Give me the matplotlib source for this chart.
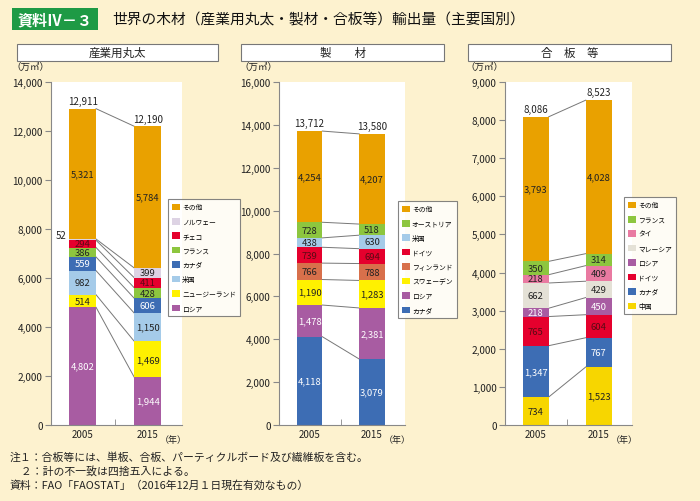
import numpy as np
import matplotlib
matplotlib.use('Agg')
import matplotlib.pyplot as plt
import matplotlib.transforms as mtransforms
from matplotlib.patches import Rectangle, Patch

plt.rcParams['font.family'] = ['Noto Sans CJK JP', 'DejaVu Sans']

W, H = 700, 502

years = ['2005', '2015']

# 産業用丸太 (bottom -> top)
log_names = ['ロシア', 'ニュージーランド', '米国', 'カナダ', 'フランス', 'チェコ', 'ノルウェー', 'その他']
log_2005 = [4802, 514, 982, 559, 386, 294, 52, 5321]
log_2015 = [1944, 1469, 1150, 606, 428, 411, 399, 5784]
log_total = [12911, 12190]

# 製材
saw_names = ['カナダ', 'ロシア', 'スウェーデン', 'フィンランド', 'ドイツ', '米国', 'オーストリア', 'その他']
saw_2005 = [4118, 1478, 1190, 766, 739, 438, 728, 4254]
saw_2015 = [3079, 2381, 1283, 788, 694, 630, 518, 4207]
saw_total = [13712, 13580]

# 合板等
ply_names = ['中国', 'カナダ', 'ドイツ', 'ロシア', 'マレーシア', 'タイ', 'フランス', 'その他']
ply_2005 = [734, 1347, 765, 218, 662, 218, 350, 3793]
ply_2015 = [1523, 767, 604, 450, 429, 409, 314, 4028]
ply_total = [8086, 8523]

BG = '#fdf2cf'
ORANGE = '#e9a100'
GREEN = '#8dc63f'
BLUE = '#3d6db4'
LBLUE = '#a5cbe9'
RED = '#e5002d'
PURPLE = '#a85ca2'
YELLOW = '#fff100'
DARK = '#222222'
DRED = '#5a0a14'

log_colors = [PURPLE, YELLOW, LBLUE, BLUE, GREEN, RED, '#ddd3e4', ORANGE]
log_txt = ['white', DARK, DARK, 'white', DARK, DRED, DARK, DARK]
saw_colors = [BLUE, PURPLE, YELLOW, '#d8704b', RED, LBLUE, GREEN, ORANGE]
saw_txt = ['white', 'white', DARK, DARK, DRED, DARK, DARK, DARK]
ply_colors = ['#f7d600', BLUE, RED, PURPLE, '#e4e1d6', '#e97aa1', GREEN, ORANGE]
ply_txt = [DARK, 'white', DRED, 'white', DARK, DARK, DARK, DARK]

fig = plt.figure(figsize=(W / 100, H / 100), dpi=100, facecolor=BG)

BW = 0.41


def fx(px):
    return px / W


def fy(py):
    return 1 - py / H


def draw_panel(left, right, names, v05, v15, totals, colors, txtcols,
               ymax, step, leg_xy, outside=()):
    ax = fig.add_axes([fx(left), fy(426), fx(right - left), (426 - 83) / H])
    ax.set_facecolor('white')
    vals = [v05, v15]
    for i, v in enumerate(vals):
        bottoms = np.concatenate([[0], np.cumsum(v)[:-1]])
        ax.bar([i] * len(v), v, bottom=bottoms, width=BW, color=colors,
               edgecolor='none', zorder=2)
        for k, (b, h) in enumerate(zip(bottoms, v)):
            if (i, k) in outside:
                ax.text(i - BW / 2 - 0.04, b + h + ymax * 0.012, f'{h:,}',
                        ha='right', va='center', fontsize=7, color=DARK)
            else:
                ax.text(i, b + h / 2, f'{h:,}', ha='center', va='center',
                        fontsize=6.8, color=txtcols[k], zorder=3)
        ax.text(i, np.sum(v) + ymax * 0.008, f'{totals[i]:,}', ha='center',
                va='bottom', fontsize=7, color=DARK)
    # connecting lines between boundaries
    c0 = np.cumsum(v05)
    c1 = np.cumsum(v15)
    for a, b in zip(c0, c1):
        ax.plot([BW / 2, 1 - BW / 2], [a, b], color='#777777', lw=0.7,
                zorder=1)
    ax.set_xlim(-0.49, 1.53)
    ax.set_ylim(0, ymax)
    ax.set_yticks(np.arange(0, ymax + 1, step))
    ax.set_yticklabels([f'{t:,}' for t in range(0, ymax + 1, step)])
    ax.set_xticks([0, 1])
    ax.set_xticklabels(years)
    ax.set_xticks([0.5], minor=True)
    ax.tick_params(axis='x', which='major', length=0, labelsize=7,
                   pad=3, colors=DARK)
    ax.tick_params(axis='x', which='minor', direction='in', length=4,
                   color='#888888')
    ax.tick_params(axis='y', length=4, width=0.8, color='#888888',
                   labelsize=7.2, labelcolor=DARK, pad=2)
    for s in ['top', 'right']:
        ax.spines[s].set_visible(False)
    for s in ['left', 'bottom']:
        ax.spines[s].set_color('#888888')
        ax.spines[s].set_linewidth(0.8)
    trans = mtransforms.blended_transform_factory(ax.transData, ax.transAxes)
    ax.text(1.4, -0.03, '（年）', transform=trans, ha='center', va='top',
            fontsize=6.5, color=DARK)
    ax.annotate('（万㎥）', xy=(0, 1), xycoords='axes fraction',
                xytext=(-1, 8), textcoords='offset points', ha='right',
                va='bottom', fontsize=6.8, color=DARK)
    handles = [Patch(facecolor=c, edgecolor='none') for c in colors[::-1]]
    leg = fig.legend(handles, names[::-1], loc='upper left',
                     bbox_to_anchor=(fx(leg_xy[0]), fy(leg_xy[1])),
                     borderaxespad=0, fontsize=4.9, frameon=True,
                     fancybox=False, handlelength=1.1, handleheight=1.1,
                     handletextpad=0.35, labelspacing=0.95, borderpad=0.6)
    leg.get_frame().set_edgecolor('#666666')
    leg.get_frame().set_linewidth(0.8)
    return ax


draw_panel(51, 182, log_names, log_2005, log_2015, log_total, log_colors,
           log_txt, 14000, 2000, (168, 200), outside=[(0, 6)])
draw_panel(279, 405, saw_names, saw_2005, saw_2015, saw_total, saw_colors,
           saw_txt, 16000, 2000, (398, 202))
draw_panel(505, 632, ply_names, ply_2005, ply_2015, ply_total, ply_colors,
           ply_txt, 9000, 1000, (624, 198))

# title block
fig.patches.append(Rectangle((fx(12), fy(31)), fx(86), 22 / H,
                             transform=fig.transFigure, facecolor='#1e9a45',
                             edgecolor='none'))
fig.text(fx(55), fy(20), '資料Ⅳ－３', ha='center', va='center', fontsize=10.8,
         color='white', fontweight='bold')
fig.text(fx(112), fy(20), '世界の木材（産業用丸太・製材・合板等）輸出量（主要国別）',
         ha='left', va='center', fontsize=10.6, color='#111111')

# panel headers
headers = ['産業用丸太', '製　　材', '合　板　等']
hx = [(17, 218), (241, 444), (468, 671)]
for (x0, x1), t in zip(hx, headers):
    fig.patches.append(Rectangle((fx(x0), fy(62)), fx(x1 - x0), 17 / H,
                                 transform=fig.transFigure, facecolor='white',
                                 edgecolor='#777777', lw=0.8))
    fig.text(fx((x0 + x1) / 2), fy(53.5), t, ha='center', va='center',
             fontsize=8.3, color=DARK)

notes = ['注１：合板等には、単板、合板、パーティクルボード及び繊維板を含む。',
         '　２：計の不一致は四捨五入による。',
         '資料：FAO「FAOSTAT」（2016年12月１日現在有効なもの）']
for k, t in enumerate(notes):
    fig.text(fx(10), fy(457 + k * 14.5), t, ha='left', va='center',
             fontsize=7.8, color=DARK)

fig.savefig('out.png', dpi=100, facecolor=BG)
